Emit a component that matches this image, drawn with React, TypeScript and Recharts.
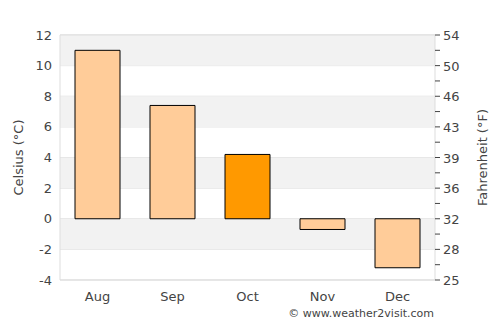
import React from "react";
import {
  BarChart,
  Bar,
  Cell,
  XAxis,
  YAxis,
  CartesianGrid,
  ReferenceArea,
} from "recharts";

const months = ["Aug", "Sep", "Oct", "Nov", "Dec"];
const celsius = [11, 7.4, 4.2, -0.7, -3.2];
const highlightMonth = "Oct";
const leftTicks = [-4, -2, 0, 2, 4, 6, 8, 10, 12];
const rightTicks = [-4, -3, -2, -1, 0, 1, 2, 3, 4, 5, 6, 7, 8, 9, 10, 11, 12];
const shadedBands = [
  [10, 12],
  [6, 8],
  [2, 4],
  [-2, 0],
];

const data = months.map((m, i) => ({ month: m, temp: celsius[i] }));

const font = "DejaVu Sans, sans-serif";
const textColor = "#444";

const toF = (c: number) => Math.round((c * 9) / 5 + 32);

const RightTick = (props: any) => {
  const { x, y, payload } = props;
  if (payload.value % 2 !== 0) return null;
  return (
    <text x={x} y={y} dy={5} fill={textColor} fontSize={13} fontFamily={font} textAnchor="start">
      {toF(payload.value)}
    </text>
  );
};

const App = () => {
  return (
    <div style={{ margin: -8, position: "relative", width: 500, height: 325, background: "#fff" }}>
      <BarChart
        width={500}
        height={325}
        data={data}
        margin={{ top: 35, right: 0, left: 0, bottom: 25 }}
        barCategoryGap="20%"
      >
        {shadedBands.map(([a, b]) => (
          <ReferenceArea
            key={a}
            yAxisId="c"
            y1={a}
            y2={b}
            fill="#f2f2f2"
            fillOpacity={1}
            stroke="none"
          />
        ))}
        <CartesianGrid vertical={false} stroke="#dddddd" strokeDasharray="" yAxisId="c" />
        <ReferenceArea yAxisId="c" y1={-4} y2={12} fill="none" stroke="#dddddd" />
        <XAxis
          dataKey="month"
          axisLine={false}
          tickLine={false}
          height={20}
          tick={{ fill: textColor, fontSize: 13, fontFamily: font }}
          tickMargin={6}
        />
        <YAxis
          yAxisId="c"
          orientation="left"
          domain={[-4, 12]}
          ticks={leftTicks}
          width={60}
          axisLine={false}
          tickLine={false}
          tickMargin={2}
          tick={{ fill: textColor, fontSize: 13, fontFamily: font }}
          label={{
            value: "Celsius (°C)",
            angle: -90,
            position: "insideLeft",
            offset: 18,
            style: { fill: textColor, fontSize: 13, fontFamily: font, textAnchor: "middle" },
          }}
        />
        <YAxis
          yAxisId="f"
          orientation="right"
          type="number"
          domain={[-4, 12]}
          allowDataOverflow
          ticks={rightTicks}
          interval={0}
          width={65}
          axisLine={false}
          tickLine={{ stroke: "#444" }}
          tickSize={5}
          tickMargin={3}
          tick={<RightTick />}
          label={{
            value: "Fahrenheit (°F)",
            angle: -90,
            position: "insideRight",
            offset: 18,
            style: { fill: textColor, fontSize: 13, fontFamily: font, textAnchor: "middle" },
          }}
        />
        <Bar dataKey="temp" yAxisId="c" stroke="#000" strokeWidth={1} isAnimationActive={false}>
          {data.map((d) => (
            <Cell key={d.month} fill={d.month === highlightMonth ? "#ff9900" : "#ffcc99"} />
          ))}
        </Bar>
        <text x={434} y={317} textAnchor="end" fill={textColor} fontSize={11} fontFamily={font}>
          © www.weather2visit.com
        </text>
      </BarChart>
    </div>
  );
};

export default App;
